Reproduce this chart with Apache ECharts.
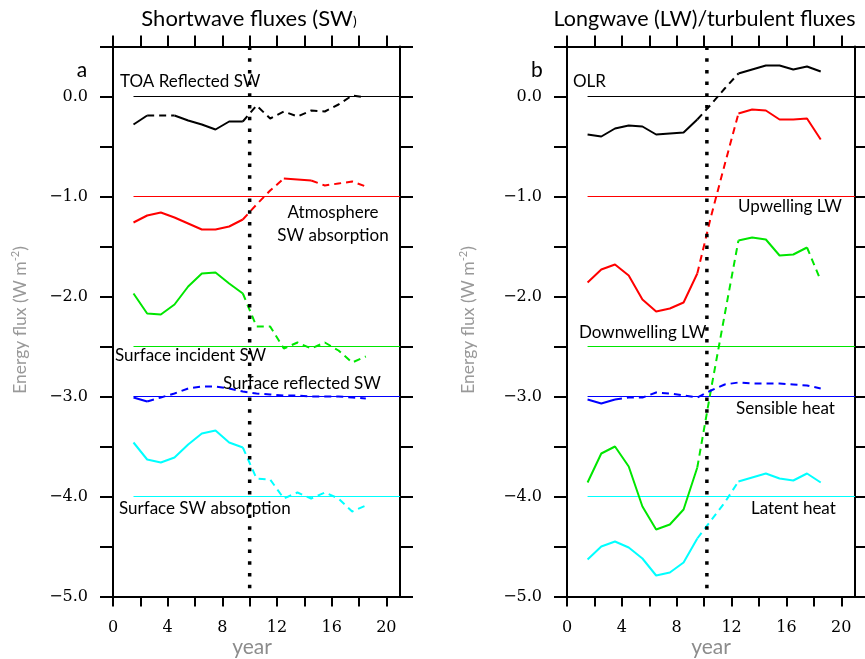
<!DOCTYPE html>
<html>
<head>
<meta charset="utf-8">
<script src="https://cdn.jsdelivr.net/npm/echarts@6/dist/echarts.min.js"></script>
<style>
html,body{margin:0;padding:0;background:#fff;}
#chart{width:865px;height:659px;}
</style>
</head>
<body>
<div id="chart"></div>
<script>
// ---------------- data ----------------
const years = [1.5,2.5,3.5,4.5,5.5,6.5,7.5,8.5,9.5,10.5,11.5,12.5,13.5,14.5,15.5,16.5,17.5,18.5];

// Panel a: shortwave fluxes
const toaReflectedSW   = [-0.28,-0.19,-0.19,-0.19,-0.24,-0.28,-0.33,-0.25,-0.25,-0.09,-0.22,-0.15,-0.20,-0.14,-0.15,-0.08,0.01,-0.01];
const atmosSWAbs       = [-1.26,-1.19,-1.16,-1.21,-1.27,-1.33,-1.33,-1.30,-1.23,-1.08,-0.94,-0.82,-0.83,-0.84,-0.89,-0.87,-0.85,-0.90];
const sfcIncidentSW    = [-1.97,-2.17,-2.18,-2.08,-1.90,-1.77,-1.76,-1.87,-1.97,-2.30,-2.30,-2.52,-2.46,-2.52,-2.46,-2.54,-2.66,-2.60];
const sfcReflectedSW   = [-3.01,-3.05,-3.01,-2.97,-2.92,-2.90,-2.90,-2.92,-2.95,-2.97,-2.98,-2.99,-2.99,-3.00,-3.00,-3.00,-3.01,-3.02];
const sfcSWAbs         = [-3.46,-3.63,-3.66,-3.61,-3.48,-3.37,-3.34,-3.46,-3.51,-3.82,-3.83,-4.02,-3.96,-4.02,-3.96,-4.02,-4.15,-4.09];

// Panel b: longwave / turbulent fluxes
const olr              = [-0.38,-0.40,-0.32,-0.29,-0.30,-0.38,-0.37,-0.36,-0.23,-0.08,0.08,0.23,0.27,0.31,0.31,0.27,0.30,0.25];
const upwellingLW      = [-1.86,-1.73,-1.68,-1.79,-2.03,-2.15,-2.12,-2.06,-1.77,-1.20,-0.68,-0.17,-0.13,-0.14,-0.23,-0.23,-0.22,-0.43];
const downwellingLW    = [-3.86,-3.57,-3.50,-3.70,-4.10,-4.33,-4.28,-4.13,-3.71,-2.93,-2.18,-1.44,-1.41,-1.43,-1.59,-1.58,-1.51,-1.84];
const sensibleHeat     = [-3.03,-3.07,-3.03,-3.01,-3.01,-2.96,-2.97,-2.99,-3.01,-2.94,-2.88,-2.86,-2.87,-2.87,-2.87,-2.88,-2.89,-2.92];
const latentHeat       = [-4.63,-4.50,-4.45,-4.51,-4.62,-4.79,-4.76,-4.66,-4.42,-4.24,-4.06,-3.85,-3.81,-3.77,-3.82,-3.84,-3.77,-3.86];

// dashed (not significant) year ranges
const dashToa  = [[2.5,4.5],[9.5,18.5]];
const dashAtm  = [[9.5,12.5],[14.5,18.5]];
const dashInc  = [[9.5,18.5]];
const dashRef  = [[2.5,18.5]];
const dashAbs  = [[9.5,18.5]];
const dashOlr  = [[9.5,12.5]];
const dashUp   = [[9.5,12.5]];
const dashDn   = [[9.5,12.5],[17.5,18.5]];
const dashSen  = [[3.5,18.5]];
const dashLat  = [[9.5,12.5]];

// reference (offset zero) levels
const refLevelsA = [0, -1, -2.5, -3, -4];
const refLevelsB = [0, -1, -2.5, -3, -4];
const refStart = 1.5, refEnd = 21;
const shiftYearA = 10, shiftYearB = 10.2;

// ticks
const xTicks  = [0,2,4,6,8,10,12,14,16,18,20];
const xLabels = [0,4,8,12,16,20];
const yTicks  = [-5,-4.5,-4,-3.5,-3,-2.5,-2,-1.5,-1,-0.5,0,0.5];
const yLabels = [-5,-4,-3,-2,-1,0];

const colors = ['#000000','#ff0000','#00e600','#0000ff','#00ffff'];

// ---------------- build ----------------
function isDashed(ranges, a, b){
  const m = (a+b)/2;
  return ranges.some(r => m > r[0] && m < r[1]);
}
function runs(values, ranges, color, xi, yi){
  const out = [];
  let cur = null, curDash = null;
  for (let i = 0; i < years.length-1; i++){
    const d = isDashed(ranges, years[i], years[i+1]);
    if (cur === null || d !== curDash){
      if (cur) out.push(mk(cur, curDash));
      cur = [[years[i], values[i]]];
      curDash = d;
    }
    cur.push([years[i+1], values[i+1]]);
  }
  if (cur) out.push(mk(cur, curDash));
  function mk(data, dash){
    return {type:'line', xAxisIndex:xi, yAxisIndex:yi, data:data, symbol:'none', silent:true, z:3,
      lineStyle:{color:color, width:2, type: dash ? [7,5] : 'solid', cap:'butt'}};
  }
  return out;
}
function refLine(level, color, xi, yi){
  return {type:'line', xAxisIndex:xi, yAxisIndex:yi, data:[[refStart, level],[refEnd, level]],
    symbol:'none', silent:true, z:2, lineStyle:{color:color, width:1.2}};
}
function vLine(x, xi, yi){
  return {type:'line', xAxisIndex:xi, yAxisIndex:yi, data:[[x, 0.5],[x, -5]],
    symbol:'none', silent:true, z:4, lineStyle:{color:'#000', width:3.5, type:[3.5,8.2], cap:'butt'}};
}

const series = [];
refLevelsA.forEach((l,i)=>series.push(refLine(l, colors[i], 0, 0)));
refLevelsB.forEach((l,i)=>series.push(refLine(l, colors[i], 2, 2)));
[[toaReflectedSW,dashToa],[atmosSWAbs,dashAtm],[sfcIncidentSW,dashInc],[sfcReflectedSW,dashRef],[sfcSWAbs,dashAbs]]
  .forEach((s,i)=>series.push(...runs(s[0], s[1], colors[i], 0, 0)));
[[olr,dashOlr],[upwellingLW,dashUp],[downwellingLW,dashDn],[sensibleHeat,dashSen],[latentHeat,dashLat]]
  .forEach((s,i)=>series.push(...runs(s[0], s[1], colors[i], 2, 2)));
series.push(vLine(shiftYearA, 0, 0));
series.push(vLine(shiftYearB, 2, 2));

const tickFont = {fontFamily:'DejaVu Serif', fontSize:16, color:'#000'};
const axLine = {show:true, onZero:false, lineStyle:{color:'#000', width:2}};

function xAx(grid, pos){
  const bottom = pos === 'bottom';
  return {type:'value', gridIndex:grid, position:pos, min:0, max:21,
    axisLine:axLine,
    axisTick:{show:true, inside:false, length: bottom ? 10 : 11, customValues:xTicks, lineStyle:{color:'#000', width:2}},
    axisLabel:Object.assign({show:bottom, customValues:xLabels, margin:23, formatter:v=>String(v)}, tickFont),
    splitLine:{show:false}};
}
function yAx(grid, pos){
  const left = pos === 'left';
  return {type:'value', gridIndex:grid, position:pos, min:-5, max:0.5,
    axisLine:axLine,
    axisTick:{show:true, inside:false, length:13, customValues:yTicks, lineStyle:{color:'#000', width:2}},
    axisLabel:Object.assign({show:left, customValues:yLabels, margin:25,
      formatter:v=> (v < 0 ? '\u2212' : '') + Math.abs(v).toFixed(1)}, tickFont),
    splitLine:{show:false}};
}

const annFont = {fontFamily:'Lato', fontSize:17, fill:'#000'};
function ann(text, x, y, align){
  return {type:'text', x:x, y:y, z:10, style:Object.assign({text:text, align:align||'left', verticalAlign:'middle'}, annFont)};
}
function yTitle(x, y){
  return {type:'text', x:x, y:y, rotation:Math.PI/2, z:10,
    style:{text:'{m|Energy flux (W m}{s|-2}{m|)}', align:'center', verticalAlign:'middle',
      rich:{m:{fontFamily:'Lato', fontSize:17.5, fill:'#999999', color:'#999999'},
            s:{fontFamily:'Lato', fontSize:11, fill:'#999999', color:'#999999', verticalAlign:'top', padding:[0,0,9,0]}}}};
}

const option = {
  animation:false,
  backgroundColor:'#ffffff',
  grid:[
    {left:113, top:46.5, width:287, height:550, containLabel:false},
    {left:567, top:46.5, width:288, height:550, containLabel:false}
  ],
  xAxis:[xAx(0,'bottom'), xAx(0,'top'), xAx(1,'bottom'), xAx(1,'top')],
  yAxis:[yAx(0,'left'), yAx(0,'right'), yAx(1,'left'), yAx(1,'right')],
  series:series,
  graphic:[
    {type:'text', x:249, y:19, z:10, style:{text:'{t|Shortwave fluxes (SW}{p|)}', align:'center', verticalAlign:'middle',
      rich:{t:{fontFamily:'Lato', fontSize:22, fill:'#000', color:'#000'}, p:{fontFamily:'Lato', fontSize:14, fill:'#000', color:'#000', padding:[5,0,0,0]}}}},
    {type:'text', x:704.5, y:19, z:10, style:{text:'Longwave (LW)/turbulent fluxes', align:'center', verticalAlign:'middle', fontFamily:'Lato', fontSize:21.5, fill:'#000'}},
    {type:'text', x:82, y:70, z:10, style:{text:'a', align:'center', verticalAlign:'middle', fontFamily:'Lato', fontSize:21, fill:'#000'}},
    {type:'text', x:537, y:70, z:10, style:{text:'b', align:'center', verticalAlign:'middle', fontFamily:'Lato', fontSize:21, fill:'#000'}},
    yTitle(20, 320),
    yTitle(468, 320),
    {type:'text', x:252, y:647, z:10, style:{text:'year', align:'center', verticalAlign:'middle', fontFamily:'Lato', fontSize:21, fill:'#8c8c8c'}},
    {type:'text', x:711, y:647, z:10, style:{text:'year', align:'center', verticalAlign:'middle', fontFamily:'Lato', fontSize:21, fill:'#8c8c8c'}},
    ann('TOA Reflected SW', 120, 82),
    ann('Atmosphere', 333, 213, 'center'),
    ann('SW absorption', 333, 236, 'center'),
    ann('Surface incident SW', 115, 356),
    ann('Surface reflected SW', 223, 384),
    ann('Surface SW absorption', 119, 509),
    ann('OLR', 573, 82),
    ann('Upwelling LW', 738, 207),
    ann('Downwelling LW', 579, 333),
    ann('Sensible heat', 736, 409),
    ann('Latent heat', 751, 509)
  ]
};

const chart = echarts.init(document.getElementById('chart'), null, {renderer:'canvas'});
chart.setOption(option);
</script>
</body>
</html>
